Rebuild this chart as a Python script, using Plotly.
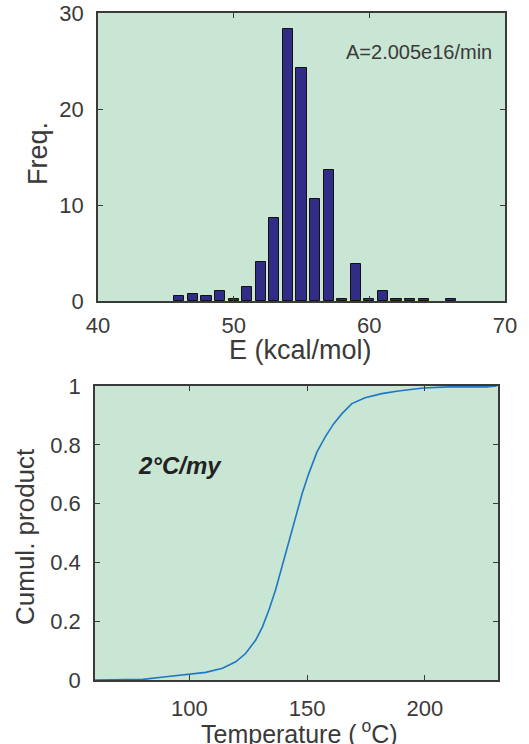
import plotly.graph_objects as go

# Histogram of activation energies
energy_bins = [46, 47, 48, 49, 50, 51, 52, 53, 54, 55, 56, 57, 58, 59, 60, 61, 62, 63, 64, 66]
frequency = [0.5, 0.7, 0.5, 1.0, 0.25, 1.5, 4.1, 8.6, 28.3, 24.3, 10.6, 13.65, 0.2, 3.9, 0.25, 1.0, 0.2, 0.2, 0.2, 0.2]

# Cumulative product vs temperature
temperature = [60, 80.3, 90.1, 100, 107, 114.1, 119.7, 123.9, 128.2, 131, 133.8, 136.6, 139.4,
               142.3, 145.1, 147.9, 150.7, 154.2, 157.7, 161.3, 164.8, 169, 174.6, 181.7,
               188.7, 199.3, 209.9, 226.1, 230.5]
cumul = [0, 0.002, 0.011, 0.019, 0.026, 0.04, 0.062, 0.09, 0.136, 0.18, 0.238, 0.306, 0.385,
         0.476, 0.555, 0.634, 0.702, 0.776, 0.827, 0.872, 0.906, 0.94, 0.96, 0.974,
         0.983, 0.993, 0.997, 0.997, 1.0]

BG = "#C9E5D3"
AX = "#3a3a3a"
FONT = "Liberation Sans, Arial, sans-serif"

fig = go.Figure()
fig.add_trace(go.Bar(x=energy_bins, y=frequency, width=0.75,
                     marker=dict(color="#312C86", line=dict(color="#111111", width=1)),
                     xaxis="x", yaxis="y", showlegend=False))
fig.add_trace(go.Scatter(x=temperature, y=cumul, mode="lines",
                         line=dict(color="#1f77c4", width=1.6),
                         xaxis="x2", yaxis="y2", showlegend=False))

W, H = 529, 744
def fx(px): return px / W
def fy(py): return 1 - py / H

axis_common = dict(showline=True, linecolor=AX, linewidth=1.5, mirror="ticks",
                   ticks="inside", ticklen=5, tickcolor=AX, tickwidth=1,
                   showgrid=False, zeroline=False, automargin=False,
                   ticklabeloverflow="allow",
                   tickfont=dict(family=FONT, size=22, color=AX))

fig.update_layout(
    template="none",
    width=W, height=H, margin=dict(l=0, r=0, t=0, b=0, autoexpand=False),
    paper_bgcolor="white", plot_bgcolor=BG,
    font=dict(family=FONT, color=AX),
    bargap=0,
    xaxis=dict(domain=[fx(98), fx(505)], range=[40, 70], tickvals=[40, 50, 60, 70],
               anchor="y", ticklabelstandoff=4, **axis_common),
    yaxis=dict(domain=[fy(301), fy(13)], range=[0, 30], tickvals=[0, 10, 20, 30],
               anchor="x", ticklabelstandoff=8, **axis_common),
    xaxis2=dict(domain=[fx(95), fx(498)], range=[60, 231], tickvals=[100, 150, 200],
                anchor="y2", ticklabelstandoff=8, **axis_common),
    yaxis2=dict(domain=[fy(680), fy(386)], range=[0, 1], tickvals=[0, 0.2, 0.4, 0.6, 0.8, 1],
                ticktext=["0", "0.2", "0.4", "0.6", "0.8", "1"],
                anchor="x2", ticklabelstandoff=8, **axis_common),
)

annots = [
    dict(text="E (kcal/mol)", x=fx(300), y=fy(350), xref="paper", yref="paper",
         showarrow=False, font=dict(size=27, family=FONT, color=AX), xanchor="center", yanchor="middle"),
    dict(text="Freq.", x=fx(38), y=fy(154), xref="paper", yref="paper", textangle=-90,
         showarrow=False, font=dict(size=27, family=FONT, color=AX), xanchor="center", yanchor="middle"),
    dict(text="Temperature (<sup> o</sup>C)", x=fx(299), y=fy(732), xref="paper", yref="paper",
         showarrow=False, font=dict(size=25, family=FONT, color=AX), xanchor="center", yanchor="middle"),
    dict(text="Cumul. product", x=fx(25), y=fy(537), xref="paper", yref="paper", textangle=-90,
         showarrow=False, font=dict(size=26, family=FONT, color=AX), xanchor="center", yanchor="middle"),
    dict(text="A=2.005e16/min", x=58.1, y=25.9, xref="x", yref="y",
         showarrow=False, font=dict(size=20, family=FONT, color=AX), xanchor="left", yanchor="middle"),
    dict(text="<b><i>2°C/my</i></b>", x=77.5, y=0.73, xref="x2", yref="y2",
         showarrow=False, font=dict(size=24, family=FONT, color="#222222"), xanchor="left", yanchor="middle"),
]
fig.update_layout(annotations=annots)

fig.write_html("out.html", config={"displayModeBar": False},
               post_script="document.body.style.margin='0';document.body.style.overflow='hidden';")
